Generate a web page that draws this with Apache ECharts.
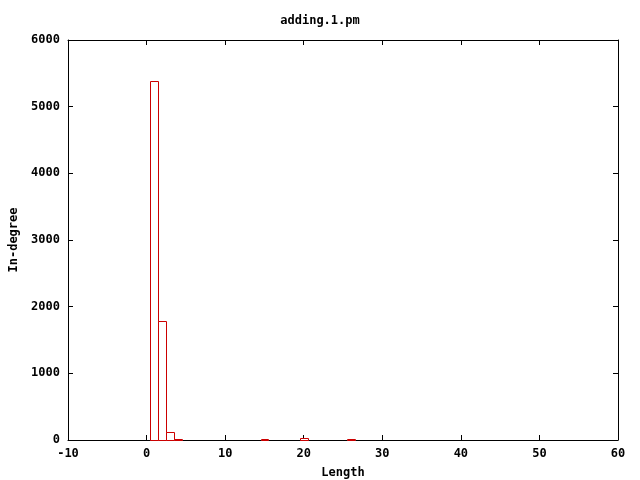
<!DOCTYPE html>
<html><head><meta charset="utf-8">
<script src="https://cdn.jsdelivr.net/npm/echarts@6/dist/echarts.min.js"></script>
</head><body style="margin:0;background:#fff">
<div id="c" style="width:640px;height:480px"></div>
<script>
const titleText = 'adding.1.pm';
const xName = 'Length';
const yName = 'In-degree';
const lengths = [1, 2, 3, 4, 15, 20, 26];
const counts = [5380, 1780, 125, 20, 20, 25, 20];
const xMin = -10, xMax = 60, xStep = 10;
const yMin = 0, yMax = 6000, yStep = 1000;

const font = { fontFamily: 'DejaVu Sans Mono', fontWeight: 'bold', fontSize: 12, color: '#000' };
const data = lengths.map((l, i) => [l, counts[i]]);

const chart = echarts.init(document.getElementById('c'), null, { renderer: 'canvas' });
const axBase = {
  type: 'value', splitLine: { show: false },
  axisLine: { show: true, onZero: false, lineStyle: { color: '#000', width: 1 } },
  axisTick: { show: true, inside: true, length: 5, lineStyle: { color: '#000' } },
  minorTick: { show: false }
};
chart.setOption({
  animation: false,
  backgroundColor: '#fff',
  title: { text: titleText, left: 'center', top: 10, textStyle: Object.assign({}, font) },
  grid: { left: 68, right: 22, top: 40, bottom: 40, containLabel: false, outerBoundsMode: 'none' },
  xAxis: [
    Object.assign({}, axBase, { min: xMin, max: xMax, interval: xStep, position: 'bottom',
      name: xName, nameLocation: 'middle', nameGap: 27, nameTextStyle: Object.assign({}, font),
      axisLabel: Object.assign({ margin: 8 }, font) }),
    Object.assign({}, axBase, { min: xMin, max: xMax, interval: xStep, position: 'top',
      axisLabel: { show: false } })
  ],
  yAxis: [
    Object.assign({}, axBase, { min: yMin, max: yMax, interval: yStep, position: 'left',
      name: yName, nameLocation: 'middle', nameGap: 47, nameRotate: 90, nameTextStyle: Object.assign({}, font),
      axisLabel: Object.assign({ margin: 8, formatter: v => String(v) }, font) }),
    Object.assign({}, axBase, { min: yMin, max: yMax, interval: yStep, position: 'right',
      axisLabel: { show: false } })
  ],
  series: [{
    type: 'custom',
    xAxisIndex: 0, yAxisIndex: 0,
    itemStyle: { color: '#ffffff', borderColor: '#cc0000', borderWidth: 1 },
    data: data,
    renderItem: function (params, api) {
      const x = api.value(0), y = api.value(1);
      const p0 = api.coord([x - 0.5, y]);
      const p1 = api.coord([x + 0.5, 0]);
      const x0 = Math.round(p0[0]) + 0.5, x1 = Math.round(p1[0]) + 0.5;
      const y0 = Math.round(p0[1]) + 0.5, y1 = Math.round(p1[1]) + 0.5;
      return {
        type: 'rect',
        shape: { x: x0, y: y0, width: x1 - x0, height: y1 - y0 },
        style: { fill: '#ffffff', stroke: '#cc0000', lineWidth: 1 }
      };
    }
  }]
});
</script>
</body></html>
